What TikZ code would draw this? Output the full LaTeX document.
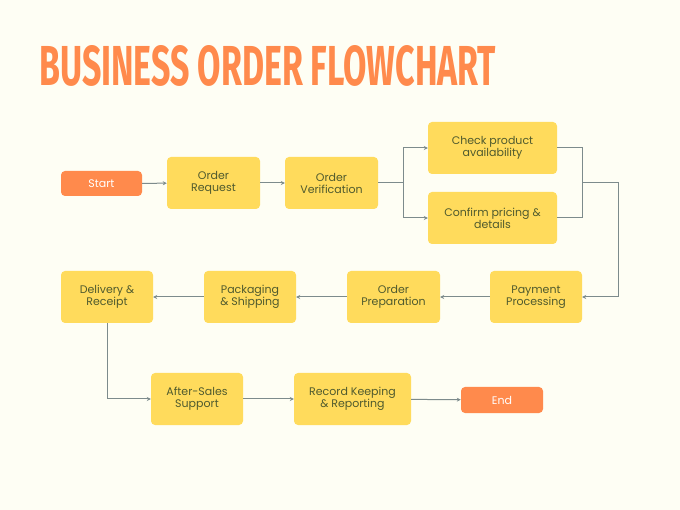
\documentclass[tikz,border=0pt]{standalone}
\usepackage{fontspec}
\setmainfont{Poppins}
\newfontfamily\titlefont{Fira Sans}
\usetikzlibrary{arrows.meta}
\definecolor{bg}{HTML}{FEFEF4}
\definecolor{yel}{HTML}{FFDB5C}
\definecolor{org}{HTML}{FF8A4C}
\definecolor{txt}{HTML}{4F5A2E}
\definecolor{ln}{HTML}{7D8B8C}
\tikzset{
 box/.style={draw=none,fill=yel,rounded corners=4pt,text=txt,align=center,font=\fontsize{11}{12}\selectfont,inner sep=0pt},
 term/.style={box,fill=org,text=white},
 con/.style={draw=ln,line width=1pt,-{Stealth[length=4pt,width=4pt]}},
 ln/.style={draw=ln,line width=1pt}
}
\newcommand{\bx}[6]{\node[#1,minimum width=#4-#3,minimum height=#6-#5] (#2) at ({(#3+#4)/2},{(#5+#6)/2})}
\begin{document}
\begin{tikzpicture}[x=1pt,y=-1pt]
\fill[bg] (0,0) rectangle (680,510);
\node[anchor=west,inner sep=0pt,text=org] (title) at (39,66) {\resizebox{457pt}{40pt}{\titlefont\bfseries BUSINESS ORDER FLOWCHART}};
\bx{term}{start}{61}{142}{171}{196}{Start};
\bx{box}{req}{167}{260}{157}{209}{Order\\Request};
\bx{box}{ver}{285}{378}{157}{209}{Order\\Verification};
\bx{box}{chk}{428}{557}{122}{174}{Check product\\availability};
\bx{box}{conf}{428}{557}{192}{244}{Confirm pricing \&\\details};
\bx{box}{pay}{490}{582}{271}{323}{Payment\\Processing};
\bx{box}{prep}{347}{440}{271}{323}{Order\\Preparation};
\bx{box}{pack}{204}{296}{271}{323}{Packaging\\\& Shipping};
\bx{box}{del}{61}{153}{271}{323}{Delivery \&\\Receipt};
\bx{box}{after}{151}{243}{373}{425}{After-Sales\\Support};
\bx{box}{rec}{294}{411}{373}{425}{Record Keeping\\\& Reporting};
\bx{term}{end}{461}{543}{387}{413}{End};
\coordinate (sp) at (403,183);
\coordinate (jn) at (582,183);
\draw[con] (start) -- (req);
\draw[con] (req) -- (ver);
\draw[ln] (ver) -- (sp);
\draw[con] (sp) |- (chk);
\draw[con] (sp) |- (conf);
\draw[ln] (chk.east) -| (jn);
\draw[ln] (conf.east) -| (jn);
\draw[con] (jn) -- (618,183) |- (pay.east);
\draw[con] (pay) -- (prep);
\draw[con] (prep) -- (pack);
\draw[con] (pack) -- (del);
\draw[con] (del.south) |- (after.west);
\draw[con] (after) -- (rec);
\draw[con] (rec) -- (end);
\end{tikzpicture}
\end{document}
